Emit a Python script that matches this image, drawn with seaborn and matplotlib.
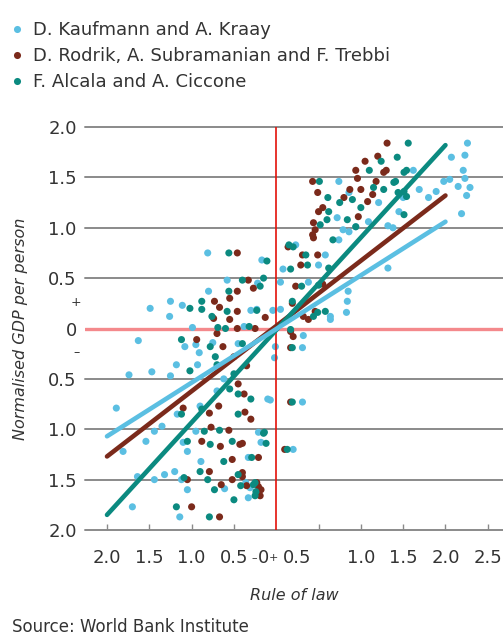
#  IMPORTS
# --------------------------------------------------------------
import pandas as pd
import matplotlib.pyplot as plt
import matplotlib.transforms as mtransforms
import seaborn as sns

# data (rule of law, normalised GDP per person)
sources = ['D. Kaufmann and A. Kraay',
           'D. Rodrik, A. Subramanian and F. Trebbi',
           'F. Alcala and A. Ciccone']

kk_pts = [
    (-0.81, 0.75), (-0.17, 0.68), (-0.58, 0.48), (-0.22, 0.45), (-0.80, 0.37), (-1.25, 0.27),
    (-1.49, 0.20), (-1.11, 0.23), (-1.26, 0.12), (-0.30, 0.18), (-0.04, 0.18), (-0.23, 0.19),
    (0.05, 0.19), (0.05, 0.46), (0.08, 0.59), (-0.99, 0.01), (-0.38, 0.02), (-1.63, -0.12),
    (-1.08, -0.18), (-0.95, -0.16), (-0.75, -0.14), (-0.45, -0.15), (-0.91, -0.24), (-0.93, -0.36),
    (-1.18, -0.36), (-1.47, -0.43), (-1.74, -0.46), (-1.25, -0.47), (-0.02, -0.29), (-0.01, -0.18),
    (-0.62, -0.50), (-0.70, -0.62),
    (-1.89, -0.79), (-1.17, -0.85), (-0.90, -0.77), (-1.35, -0.97), (-1.44, -1.02), (-0.95, -1.02),
    (-1.54, -1.12), (-1.10, -1.13), (-1.81, -1.22), (-1.05, -1.22), (-0.89, -1.32), (-1.20, -1.42),
    (-1.32, -1.45), (-1.64, -1.47), (-1.44, -1.50), (-1.12, -1.50), (-1.05, -1.60), (-0.61, -1.59),
    (-1.70, -1.77), (-1.14, -1.87), (-0.07, -0.71), (-0.21, -1.03), (-0.18, -1.13), (-0.33, -1.28),
    (-0.36, -1.53), (-0.31, -1.58), (-0.33, -1.68), (-0.10, -0.70),
    (0.31, -0.19), (0.32, -0.07), (0.31, -0.73), (0.20, -1.20), (0.64, 0.09), (0.83, 0.16),
    (0.84, 0.27), (0.85, 0.37), (0.38, 0.46), (0.50, 0.63), (0.23, 0.83), (0.58, 0.73), (0.64, 0.12),
    (0.74, 1.46), (0.86, 1.35), (0.72, 1.10), (0.79, 0.98), (0.86, 0.96), (0.74, 0.88), (0.94, 1.01),
    (1.09, 1.06), (1.21, 1.25), (1.32, 1.02), (1.38, 1.00), (1.45, 1.16), (1.32, 0.60), (1.62, 1.57),
    (1.69, 1.38), (1.89, 1.36), (1.98, 1.46), (2.05, 1.48), (2.07, 1.70), (2.21, 1.57), (2.23, 1.49),
    (2.15, 1.41), (2.29, 1.40), (2.25, 1.32), (2.19, 1.14), (2.26, 1.84), (2.23, 1.72), (1.80, 1.30),
    (1.50, 1.30),
]

rst_pts = [
    (-0.46, 0.75), (-0.33, 0.48), (-0.27, 0.40), (-0.46, 0.37), (-0.73, 0.27), (-0.55, 0.30),
    (-0.67, 0.21), (-0.46, 0.17), (-0.13, 0.11), (-0.74, 0.10), (-0.55, 0.09), (-0.46, 0.00),
    (-0.25, 0.00), (-0.70, -0.05), (-0.94, -0.11), (-0.63, -0.18), (-0.50, -0.28), (-0.35, -0.37),
    (-0.45, -0.55),
    (-0.38, -0.65), (-0.37, -0.83), (-1.10, -0.79), (-0.79, -0.84), (-0.68, -0.77), (-0.30, -0.90),
    (-0.77, -0.98), (-0.56, -1.01), (-0.88, -1.12), (-0.66, -1.17), (-0.43, -1.15), (-0.40, -1.14),
    (-0.52, -1.30), (-0.21, -1.28), (-0.79, -1.42), (-0.40, -1.43), (-0.40, -1.47), (-1.05, -1.50),
    (-0.52, -1.50), (-0.23, -1.53), (-0.65, -1.55), (-0.35, -1.56), (-0.21, -1.57), (-0.18, -1.60),
    (-0.19, -1.66), (-1.00, -1.77), (-0.67, -1.87),
    (0.10, -1.20), (0.17, -0.73), (0.17, -0.19), (0.20, -0.08), (0.17, -0.03), (0.38, 0.09),
    (0.32, 0.12), (0.46, 0.17), (0.19, 0.25), (0.23, 0.42), (0.55, 0.44), (0.29, 0.63), (0.31, 0.73),
    (0.49, 0.73), (0.14, 0.81),
    (0.44, 0.90), (0.43, 0.93), (0.46, 0.98), (0.44, 1.05), (0.50, 1.16), (0.55, 1.20), (0.97, 1.11),
    (1.08, 1.26), (0.49, 1.35), (0.80, 1.30), (0.87, 1.38), (1.00, 1.38), (1.14, 1.33), (0.43, 1.46),
    (0.96, 1.49), (1.18, 1.46), (0.94, 1.57), (1.30, 1.57), (1.27, 1.55), (1.05, 1.66), (1.20, 1.71),
    (1.31, 1.84),
]

ac_pts = [
    (-0.56, 0.75), (-0.11, 0.67), (-0.40, 0.48), (-0.15, 0.50), (-0.19, 0.42), (-0.56, 0.37),
    (-0.88, 0.27), (-1.02, 0.20), (-0.88, 0.19), (-0.58, 0.17), (-0.23, 0.18), (-0.76, 0.12),
    (-0.69, 0.01), (-0.60, 0.00), (-0.32, 0.02), (-1.12, -0.11), (-0.78, -0.18), (-0.40, -0.15),
    (-0.72, -0.28), (-0.70, -0.36), (-1.02, -0.42), (-0.50, -0.45),
    (-0.45, -0.65), (-0.55, -0.60), (-0.30, -0.70), (-0.45, -0.85), (-1.12, -0.85), (-0.88, -0.80),
    (-0.85, -1.02), (-0.67, -1.01), (-0.14, -1.03), (-0.15, -1.04), (-0.12, -1.14), (-1.05, -1.12),
    (-0.78, -1.15), (-0.52, -1.12), (-0.62, -1.32), (-0.29, -1.28), (-0.90, -1.42), (-0.45, -1.45),
    (-1.09, -1.48), (-0.81, -1.50), (-0.25, -1.53), (-0.42, -1.56), (-0.27, -1.55), (-0.73, -1.60),
    (-0.24, -1.62), (-0.25, -1.66), (-0.50, -1.70), (-1.18, -1.77), (-0.79, -1.87),
    (0.13, -1.20), (0.19, -0.73), (0.19, -0.19), (0.17, -0.01), (0.44, 0.12), (0.49, 0.16),
    (0.58, 0.17), (0.19, 0.27), (0.30, 0.42), (0.50, 0.43), (0.17, 0.59), (0.62, 0.60), (0.37, 0.63),
    (0.35, 0.73), (0.20, 0.81), (0.15, 0.83),
    (0.67, 0.88), (0.52, 1.03), (0.94, 1.01), (0.60, 1.08), (0.84, 1.08), (0.62, 1.16), (1.00, 1.20),
    (0.75, 1.25), (0.90, 1.28), (0.61, 1.30), (1.51, 1.13), (1.54, 1.31), (1.44, 1.35), (1.51, 1.36),
    (1.27, 1.38), (1.15, 1.40), (1.39, 1.45), (1.41, 1.46), (0.51, 1.46), (1.51, 1.55), (1.10, 1.57),
    (1.54, 1.57), (1.24, 1.66), (1.43, 1.70), (1.56, 1.84),
]

# fitted lines (ends)
fit_x = [-2.0, 2.0]
kk_fit = [-1.07, 1.06]
rst_fit = [-1.27, 1.32]
ac_fit = [-1.85, 1.82]

y_ticks = [-2.0, -1.5, -1.0, -0.5, 0, 0.5, 1.0, 1.5, 2.0]
y_labels = ['2.0', '1.5', '1.0', '0.5', '0', '0.5', '1.0', '1.5', '2.0']
x_ticks = [-2.0, -1.5, -1.0, -0.5, 0.5, 1.0, 1.5, 2.0, 2.5]
x_labels = ['2.0', '1.5', '1.0', '0.5', '', '1.0', '1.5', '2.0', '2.5']

colors = ['#5bbfe2', '#7b2a1b', '#0b8a80']
txt = '#333333'

sns.set_style('white')
plt.rcParams['font.family'] = ['DejaVu Sans']

rows = []
for name, pts in zip(sources, [kk_pts, rst_pts, ac_pts]):
    for x, y in pts:
        rows.append({'source': name, 'rule': x, 'gdp': y})
df = pd.DataFrame(rows)

fig = plt.figure(figsize=(5.03, 6.35), dpi=100)
ax = fig.add_axes([85 / 503, 1 - 530 / 635, 418 / 503, 403 / 635])

# grid lines by hand, economist style
for yv in y_ticks:
    if yv == 0:
        continue
    ax.axhline(yv, color='#8a8a8a', lw=1.4, zorder=1, clip_on=False)
ax.axhline(0, color='#f4898c', lw=2.4, zorder=1)

sns.scatterplot(data=df, x='rule', y='gdp', hue='source', hue_order=sources,
                palette=colors, s=26, linewidth=0, alpha=1, ax=ax, zorder=2)
ax.axvline(0, color='#e3120b', lw=1.2, zorder=3)

for fit, c in zip([rst_fit, ac_fit, kk_fit], [colors[1], colors[2], colors[0]]):
    sns.lineplot(x=fit_x, y=fit, color=c, lw=3.3, ax=ax, zorder=4, legend=False)

ax.set_xlim(-2.26, 2.68)
ax.set_ylim(-2.0, 2.0)
for sp in ax.spines.values():
    sp.set_visible(False)

ax.set_xticks(x_ticks, x_labels)
ax.set_yticks(y_ticks, y_labels)
ax.tick_params(axis='x', bottom=True, direction='in', length=4, width=1,
               color='#8a8a8a', pad=13.5, labelsize=13, labelcolor=txt)
ax.tick_params(axis='y', left=False, length=0, pad=6, labelsize=13, labelcolor=txt)

# the little signs round zero
xt = mtransforms.blended_transform_factory(ax.transData, ax.transAxes)
yt = mtransforms.blended_transform_factory(ax.transAxes, ax.transData)
lab_y = (530 - 558) / 403
ax.text(-0.265, lab_y, '–', transform=xt, ha='center', va='center', fontsize=8, color=txt)
ax.text(-0.15, lab_y, '0', transform=xt, ha='center', va='center', fontsize=13, color=txt)
ax.text(-0.03, lab_y, '+', transform=xt, ha='center', va='center', fontsize=8, color=txt)
ax.text(0.25, lab_y, '0.5', transform=xt, ha='center', va='center', fontsize=13, color=txt)
ax.text(-0.021, 0.26, '+', transform=yt, ha='center', va='center', fontsize=9, color=txt)
ax.text(-0.021, -0.24, '–', transform=yt, ha='center', va='center', fontsize=9, color=txt)

ax.set_xlabel('Rule of law', fontstyle='italic', fontsize=11.5, color=txt)
ax.xaxis.label.set_va('center')
ax.xaxis.set_label_coords(0.5, (530 - 595) / 403)
ax.set_ylabel('Normalised GDP per person', fontstyle='italic', fontsize=11.5, color=txt)
ax.yaxis.label.set_va('center')
ax.yaxis.set_label_coords((21 - 85) / 418, 0.5)

sns.move_legend(ax, 'upper left', bbox_to_anchor=(8 / 503, 1 - 21 / 635),
                bbox_transform=fig.transFigure, frameon=False, title=None,
                fontsize=13, handlelength=1.0, handletextpad=0.4, labelspacing=0.45,
                borderpad=0, borderaxespad=0, labelcolor=txt)

fig.text(12 / 503, 1 - 627 / 635, 'Source: World Bank Institute', fontsize=12,
         ha='left', va='center', color=txt)

plt.savefig('out.png', dpi=100)
